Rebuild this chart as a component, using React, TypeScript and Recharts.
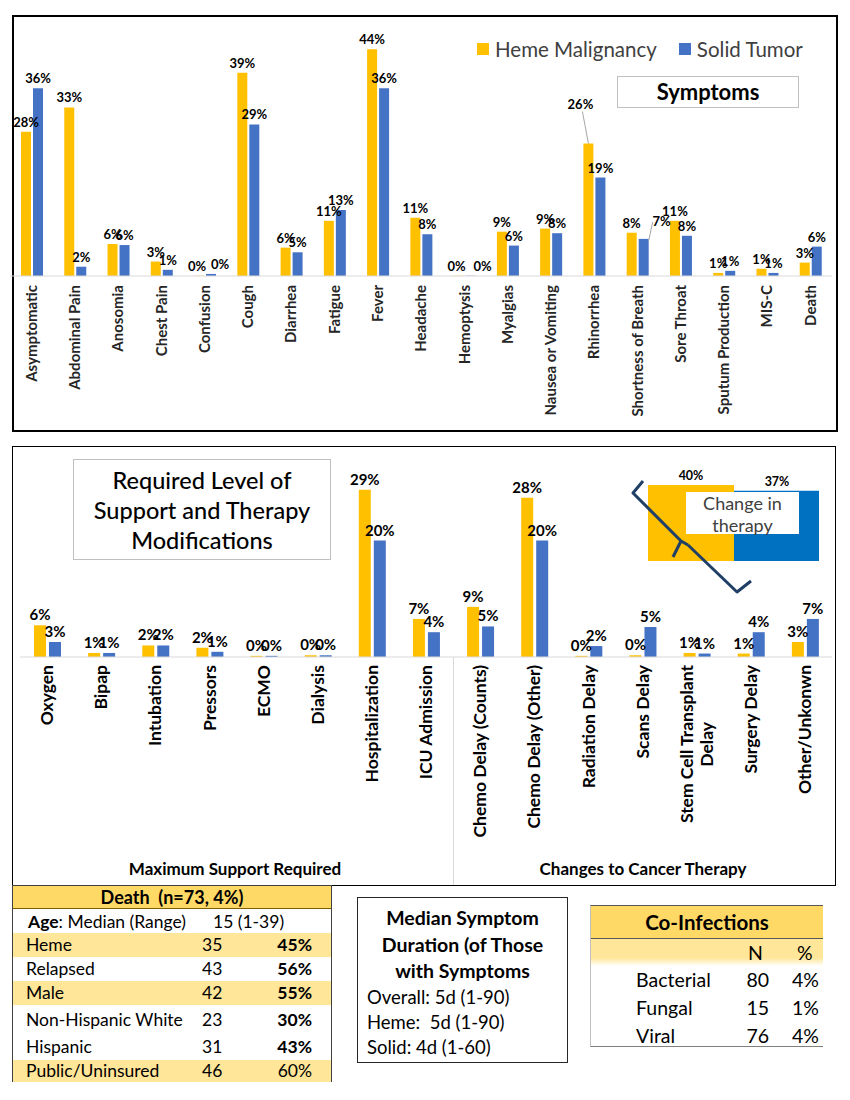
import React from 'react';
import { BarChart, Bar, XAxis, YAxis, LabelList, Legend } from 'recharts';

const HEME = '#FFC000';
const SOLID = '#4472C4';
const INSET_SOLID = '#0070C0';
const FONT = 'Lato, "Open Sans", sans-serif';

const seriesNames = ['Heme Malignancy', 'Solid Tumor'];

// Symptoms (% of patients)
const symptomCategories = [
  'Asymptomatic', 'Abdominal Pain', 'Anosomia', 'Chest Pain', 'Confusion', 'Cough', 'Diarrhea',
  'Fatigue', 'Fever', 'Headache', 'Hemoptysis', 'Myalgias', 'Nausea or Vomiting', 'Rhinorrhea',
  'Shortness of Breath', 'Sore Throat', 'Sputum Production', 'MIS-C', 'Death',
];
const symptomHeme = [28, 32.7, 6.2, 2.8, 0.05, 39.4, 5.5, 10.7, 44, 11.3, 0.05, 8.6, 9.2, 25.7, 8.4, 10.7, 0.6, 1.4, 2.6];
const symptomSolid = [36.4, 1.8, 6.0, 1.2, 0.4, 29.4, 4.6, 12.8, 36.4, 8.1, 0.05, 5.9, 8.3, 19.1, 7.2, 7.8, 1.0, 0.6, 5.7];

// Support required + changes to cancer therapy
const supportCategories = [
  'Oxygen', 'Bipap', 'Intubation', 'Pressors', 'ECMO', 'Dialysis', 'Hospitalization', 'ICU Admission',
  'Chemo Delay (Counts)', 'Chemo Delay (Other)', 'Radiation Delay', 'Scans Delay',
  'Stem Cell Transplant\nDelay', 'Surgery Delay', 'Other/Unkonwn',
];
const supportHeme = [5.5, 0.7, 2.0, 1.6, 0.2, 0.3, 29, 6.6, 8.7, 27.6, 0.2, 0.3, 0.7, 0.6, 2.6];
const supportSolid = [2.6, 0.7, 2.0, 0.9, 0.2, 0.3, 20.2, 4.3, 5.3, 20.2, 1.9, 5.2, 0.6, 4.3, 6.6];

// inset: any change in therapy
const changeCategories = ['Change in therapy'];
const changeHeme = [40];
const changeSolid = [37];

const deathRows = ['Heme', 'Relapsed', 'Male', 'Non-Hispanic White', 'Hispanic', 'Public/Uninsured'];
const deathCounts = [35, 43, 42, 23, 31, 46];
const deathPcts = ['45%', '56%', '55%', '30%', '43%', '60%'];

const durationLines = ['Overall: 5d (1-90)', 'Heme:  5d (1-90)', 'Solid: 4d (1-60)'];

const coInfections = ['Bacterial', 'Fungal', 'Viral'];
const coInfectionN = [80, 15, 76];
const coInfectionPct = ['4%', '1%', '4%'];

const symptomData = symptomCategories.map((name, i) => ({ name, heme: symptomHeme[i], solid: symptomSolid[i] }));
const supportData = supportCategories.map((name, i) => ({ name, heme: supportHeme[i], solid: supportSolid[i] }));
const changeData = changeCategories.map((name, i) => ({ name, heme: changeHeme[i], solid: changeSolid[i] }));

const pct = (v: any) => `${Math.round(Number(v))}%`;

let ctx: CanvasRenderingContext2D | null = null;
const textWidth = (s: string, font: string) => {
  if (!ctx) ctx = document.createElement('canvas').getContext('2d');
  if (!ctx) return s.length * 8;
  ctx.font = font;
  return ctx.measureText(s).width;
};

// vertical category labels, read bottom-to-top, wrapped lines centred on the first
const RotatedTick = (props: any) => {
  const { x, y, payload, size, weight, color, gap } = props;
  const lines = String(payload.value).split('\n');
  const lh = size * 1.15;
  const firstW = textWidth(lines[0], `${weight} ${size}px Lato`);
  return (
    <g transform={`translate(${x},${y + gap}) rotate(-90)`}>
      {lines.map((line, i) => (
        <text
          key={i}
          x={i === 0 ? 0 : -firstW / 2}
          y={(i - (lines.length - 1) / 2) * lh}
          dy="0.35em"
          textAnchor={i === 0 ? 'end' : 'middle'}
          fontSize={size}
          fontWeight={weight}
          fill={color}
          fontFamily={FONT}
        >
          {line}
        </text>
      ))}
    </g>
  );
};

// some symptom labels were dragged aside in the original (two with leader lines)
const movedLabels: Record<string, { dx: number; dy: number; line?: boolean }> = {
  'heme:Rhinorrhea': { dx: -8, dy: -30, line: true },
  'solid:Shortness of Breath': { dx: 18, dy: -8, line: true },
  'heme:Confusion': { dx: -2, dy: 0 },
  'solid:Confusion': { dx: 9, dy: 0 },
  'heme:Hemoptysis': { dx: -2, dy: 0 },
  'solid:Hemoptysis': { dx: 12, dy: 0 },
};

const symptomLabel = (key: string) => (p: any) => {
  const { x, y, width, value, index } = p;
  const cx = x + width / 2;
  const moved = movedLabels[`${key}:${symptomCategories[index]}`];
  const tx = cx + (moved ? moved.dx : 0);
  const ty = y - 5 + (moved ? moved.dy : 0);
  return (
    <g>
      {moved && moved.line && (
        <line
          x1={moved.dx < 0 ? tx + 2 : tx - 9}
          y1={moved.dx < 0 ? ty + 3 : ty - 4}
          x2={moved.dx < 0 ? cx : cx + width / 2}
          y2={moved.dx < 0 ? y : y + 2}
          stroke="#A6A6A6"
          strokeWidth={1}
        />
      )}
      <text x={tx} y={ty} textAnchor="middle" fontSize={13} fontWeight={700} fontFamily={FONT} fill="#000">
        {pct(value)}
      </text>
    </g>
  );
};

const LegendContent = () => (
  <div style={{ display: 'flex', alignItems: 'center', fontFamily: FONT, fontSize: 20.5, color: '#404040', whiteSpace: 'nowrap' }}>
    {seriesNames.map((n, i) => (
      <span key={n} style={{ display: 'flex', alignItems: 'center', marginRight: i === 0 ? 22 : 0 }}>
        <span style={{ width: 12, height: 12, background: i === 0 ? HEME : SOLID, marginRight: 6, display: 'inline-block' }} />
        {n}
      </span>
    ))}
  </div>
);

const abs = (left: number, top: number, extra: React.CSSProperties = {}): React.CSSProperties => ({
  position: 'absolute', left, top, ...extra,
});

export default function App() {
  const deathRowTops = [933, 957, 981, 1006, 1033, 1060];
  const deathRowHeights = [24, 24, 24, 27, 27, 22];
  const banded = [true, false, true, false, false, true];

  return (
    <div style={{ position: 'absolute', left: 0, top: 0, width: 850, height: 1100, background: '#fff', fontFamily: FONT, color: '#000' }}>
      {/* ---------- Symptoms chart ---------- */}
      <div style={abs(12, 15, { width: 826, height: 417, border: '2px solid #000', boxSizing: 'border-box' })} />
      <div style={abs(10, 15)}>
        <BarChart width={822} height={417} data={symptomData} margin={{ top: 29, right: 0, left: 0, bottom: 0 }} barGap={2}>
          <XAxis
            dataKey="name"
            interval={0}
            height={156}
            tickLine={false}
            tickSize={0}
            tickMargin={0}
            axisLine={{ stroke: '#D9D9D9' }}
            tick={(p: any) => <RotatedTick {...p} size={15} weight={700} color="#262626" gap={9} />}
          />
          <YAxis hide domain={[0, 45]} />
          <Legend layout="vertical" verticalAlign="middle" align="center" wrapperStyle={{ top: 22, left: 467, width: 360 }} content={LegendContent} />
          <Bar dataKey="heme" name={seriesNames[0]} fill={HEME} barSize={10} isAnimationActive={false}>
            <LabelList dataKey="heme" content={symptomLabel('heme')} />
          </Bar>
          <Bar dataKey="solid" name={seriesNames[1]} fill={SOLID} barSize={10} isAnimationActive={false}>
            <LabelList dataKey="solid" content={symptomLabel('solid')} />
          </Bar>
        </BarChart>
      </div>
      <div style={abs(617, 76, { width: 182, height: 32, border: '1px solid #BFBFBF', boxSizing: 'border-box', textAlign: 'center', lineHeight: '30px', fontSize: 22, fontWeight: 700 })}>
        Symptoms
      </div>

      {/* ---------- Support / therapy chart ---------- */}
      <div style={abs(12, 446, { width: 824, height: 440, border: '1px solid #000', boxSizing: 'border-box' })} />
      <div style={abs(453, 657, { width: 1, height: 228, background: '#D9D9D9' })} />
      <div style={abs(12, 446)}>
        <BarChart width={824} height={440} data={supportData} margin={{ top: 38, right: 4, left: 8, bottom: 0 }} barGap={3}>
          <XAxis
            dataKey="name"
            interval={0}
            height={229}
            tickLine={false}
            tickSize={0}
            tickMargin={0}
            axisLine={{ stroke: '#D9D9D9' }}
            tick={(p: any) => <RotatedTick {...p} size={17.5} weight={700} color="#000" gap={8} />}
          />
          <YAxis hide domain={[0, 30]} />
          <Bar dataKey="heme" name={seriesNames[0]} fill={HEME} barSize={12} isAnimationActive={false}>
            <LabelList dataKey="heme" position="top" formatter={pct} fill="#000" fontSize={15} fontWeight={700} fontFamily={FONT} />
          </Bar>
          <Bar dataKey="solid" name={seriesNames[1]} fill={SOLID} barSize={12} isAnimationActive={false}>
            <LabelList dataKey="solid" position="top" formatter={pct} fill="#000" fontSize={15} fontWeight={700} fontFamily={FONT} />
          </Bar>
        </BarChart>
      </div>
      <div style={abs(73, 459, { width: 258, height: 101, border: '1px solid #BFBFBF', boxSizing: 'border-box', textAlign: 'center', fontSize: 23.5, fontWeight: 500, lineHeight: '30px', paddingTop: 5 })}>
        Required Level of<br />Support and Therapy<br />Modifications
      </div>
      <div style={abs(35, 858, { width: 400, textAlign: 'center', fontSize: 17, fontWeight: 700 })}>Maximum Support Required</div>
      <div style={abs(443, 858, { width: 400, textAlign: 'center', fontSize: 17, fontWeight: 700 })}>Changes to Cancer Therapy</div>

      {/* inset: change in therapy */}
      <div style={abs(648, 462)}>
        <BarChart width={171} height={99} data={changeData} margin={{ top: 23, right: 0, left: 0, bottom: 0 }} barGap={0} barCategoryGap={0}>
          <XAxis dataKey="name" hide />
          <YAxis hide domain={[0, 40]} />
          <Bar dataKey="heme" fill={HEME} isAnimationActive={false}>
            <LabelList dataKey="heme" position="top" formatter={pct} fill="#000" fontSize={12.5} fontWeight={700} fontFamily={FONT} />
          </Bar>
          <Bar dataKey="solid" fill={INSET_SOLID} isAnimationActive={false}>
            <LabelList dataKey="solid" position="top" formatter={pct} fill="#000" fontSize={12.5} fontWeight={700} fontFamily={FONT} />
          </Bar>
        </BarChart>
      </div>
      <div style={abs(686, 492, { width: 113, height: 42, background: '#fff', textAlign: 'center', fontSize: 18, lineHeight: '22px', color: '#404040' })}>
        Change in<br />therapy
      </div>
      <svg style={abs(0, 0)} width={850} height={1100} pointerEvents="none">
        <path d="M643,481 L633,493 L681,541 L688,545 M681,541 L673,557 M688,545 L737,592 L751,581" fill="none" stroke="#1F3F66" strokeWidth={3} strokeLinejoin="round" />
      </svg>

      {/* ---------- Death table ---------- */}
      <div style={abs(12, 885, { width: 320, height: 197, border: '1px solid #404040', boxSizing: 'border-box', background: '#fff' })} />
      <div style={abs(13, 886, { width: 318, height: 22, background: '#FFD966', borderBottom: '1px solid #7F6000', textAlign: 'center', fontSize: 18, fontWeight: 700, lineHeight: '22px' })}>
        Death&nbsp; (n=73, 4%)
      </div>
      <div style={abs(28, 911, { fontSize: 17.5, lineHeight: '22px', whiteSpace: 'pre' })}>
        <b>Age</b>: Median (Range)
      </div>
      <div style={abs(213, 911, { fontSize: 17.5, lineHeight: '22px' })}>15 (1-39)</div>
      {deathRows.map((r, i) => (
        <div key={r} style={abs(13, deathRowTops[i], { width: 318, height: deathRowHeights[i], background: banded[i] ? '#FFE699' : 'transparent', fontSize: 17.5, lineHeight: `${deathRowHeights[i]}px` })}>
          <span style={{ position: 'absolute', left: 13 }}>{r}</span>
          <span style={{ position: 'absolute', left: 189 }}>{deathCounts[i]}</span>
          <span style={{ position: 'absolute', right: 19, fontWeight: i === deathRows.length - 1 ? 400 : 700 }}>{deathPcts[i]}</span>
        </div>
      ))}

      {/* ---------- Median symptom duration ---------- */}
      <div style={abs(357, 897, { width: 211, height: 166, border: '1px solid #262626', boxSizing: 'border-box' })}>
        <div style={{ textAlign: 'center', fontSize: 19.5, fontWeight: 700, lineHeight: '26.5px', marginTop: 7, whiteSpace: 'nowrap' }}>
          Median Symptom<br />Duration (of Those<br />with Symptoms
        </div>
        {durationLines.map((l) => (
          <div key={l} style={{ paddingLeft: 9, fontSize: 18.5, lineHeight: '25px', whiteSpace: 'pre' }}>{l}</div>
        ))}
      </div>

      {/* ---------- Co-infections ---------- */}
      <div style={abs(590, 905, { width: 233, height: 142, borderTop: '1px solid #595959', borderLeft: '1px solid #BFBFBF', borderBottom: '1px solid #7F7F7F', boxSizing: 'border-box' })}>
        <div style={{ height: 32, background: '#FFD966', borderBottom: '1px solid #595959', textAlign: 'center', fontSize: 20.5, fontWeight: 700, lineHeight: '32px' }}>
          Co-Infections
        </div>
        <div style={{ position: 'relative', height: 27, background: 'linear-gradient(#FFE699 70%, #FFFFFF)', fontSize: 19.5, lineHeight: '27px' }}>
          <span style={{ position: 'absolute', left: 157 }}>N</span>
          <span style={{ position: 'absolute', left: 206 }}>%</span>
        </div>
        {coInfections.map((c, i) => (
          <div key={c} style={{ position: 'relative', height: 28, fontSize: 19.5, lineHeight: '28px' }}>
            <span style={{ position: 'absolute', left: 45 }}>{c}</span>
            <span style={{ position: 'absolute', right: 54 }}>{coInfectionN[i]}</span>
            <span style={{ position: 'absolute', right: 4 }}>{coInfectionPct[i]}</span>
          </div>
        ))}
      </div>
    </div>
  );
}
